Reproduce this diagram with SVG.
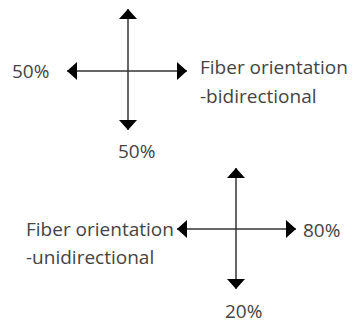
<svg xmlns="http://www.w3.org/2000/svg" width="353" height="324" viewBox="0 0 353 324">
  <style>
    .lbl { font-family: "Open Sans", "Noto Sans", sans-serif; font-size: 19px; fill: #444444; }
    .ax { stroke: #333333; stroke-width: 1.5; fill: none; marker-start: url(#ah); marker-end: url(#ah); }
  </style>
  <defs>
    <marker id="ah" viewBox="0 0 10 18" refX="10" refY="9" markerWidth="10" markerHeight="18" markerUnits="userSpaceOnUse" orient="auto-start-reverse">
      <path d="M0,0 L10,9 L0,18 Z" fill="#000000"/>
    </marker>
  </defs>
  <rect width="353" height="324" fill="#ffffff"/>
  <g id="connectors">
    <path class="ax" d="M128,9 L128,130"/>
    <path class="ax" d="M67,71 L187,71"/>
    <path class="ax" d="M236,168 L236,289"/>
    <path class="ax" d="M177,229 L296,229"/>
  </g>
  <g id="bidirectional">
    <text class="lbl" x="12" y="78">50%</text>
    <text class="lbl" x="118" y="158">50%</text>
    <text class="lbl" x="200" y="74">Fiber orientation</text>
    <text class="lbl" x="200" y="103">-bidirectional</text>
  </g>
  <g id="unidirectional">
    <text class="lbl" x="26" y="236">Fiber orientation</text>
    <text class="lbl" x="26" y="264">-unidirectional</text>
    <text class="lbl" x="303" y="237">80%</text>
    <text class="lbl" x="225" y="318">20%</text>
  </g>
</svg>
